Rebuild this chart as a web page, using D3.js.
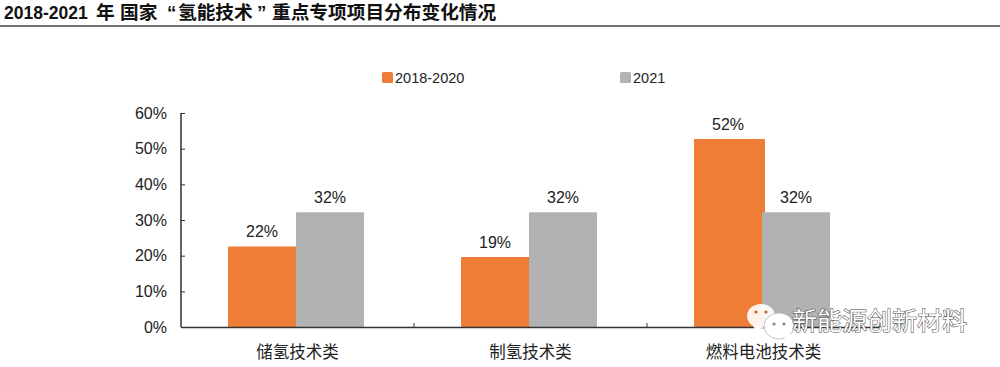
<!DOCTYPE html>
<html>
<head>
<meta charset="utf-8">
<script src="https://cdn.jsdelivr.net/npm/d3@7"></script>
<style>
html, body { margin: 0; padding: 0; background: #fff; }
svg { display: block; }
text { font-family: "Liberation Sans", "Noto Sans CJK SC", sans-serif; fill: #222; }
</style>
</head>
<body>
<svg width="1000" height="367"></svg>
<script>
var categories = ["储氢技术类", "制氢技术类", "燃料电池技术类"];
var seriesNames = ["2018-2020", "2021"];
var values2018 = [22.6, 19.6, 52.7];
var values2021 = [32.2, 32.2, 32.2];
var labels2018 = ["22%", "19%", "52%"];
var labels2021 = ["32%", "32%", "32%"];
var yTicks = [0, 10, 20, 30, 40, 50, 60];
var titleParts = ["2018-2021", "年", "国家", "“", "氢能技术", "”", "重点专项项目分布变化情况"];
var watermark = "新能源创新材料";
var colors = ["#ed7d37", "#b2b2b2"];

var svg = d3.select("svg");

var margin = {top: 113, right: 120, bottom: 40, left: 181},
    width = 1000 - margin.left - margin.right,
    height = 367 - margin.top - margin.bottom,
    g = svg.append("g").attr("transform", "translate(" + margin.left + "," + margin.top + ")");

// title + rule, runs placed one by one because the original has odd gaps
var titleX = [4, 96, 120, 167, 178, 257, 272];
var title = svg.append("text")
    .attr("y", 19)
    .style("font-size", "18.7px")
    .style("font-weight", "bold")
    .style("fill", "#111");

title.selectAll("tspan")
  .data(titleParts)
  .enter().append("tspan")
    .attr("x", function(d, i) { return titleX[i]; })
    .style("font-size", function(d, i) { return i == 0 ? "17.5px" : null; })
    .text(function(d) { return d; });

svg.append("line")
    .attr("x1", 0).attr("x2", 1000)
    .attr("y1", 26).attr("y2", 26)
    .attr("stroke", "#444")
    .attr("stroke-width", 1.5);

var x = d3.scaleBand()
    .domain(categories)
    .range([0, width]);

var x1 = d3.scaleBand()
    .domain(seriesNames)
    .range([47, x.bandwidth() - 50]);

var y = d3.scaleLinear()
    .domain([0, 60])
    .range([height, 0]);

// bars
var rows = categories.map(function(c, i) {
  return {cat: c, vals: [values2018[i], values2021[i]], labs: [labels2018[i], labels2021[i]]};
});

var groups = g.selectAll(".cat")
  .data(rows)
  .enter().append("g")
    .attr("class", "cat")
    .attr("transform", function(d) { return "translate(" + x(d.cat) + ",0)"; });

// orange runs a little under the grey bar, only visible on the tall one
groups.selectAll("rect")
  .data(function(d) {
    return d.vals.map(function(v, i) { return {name: seriesNames[i], value: v, i: i}; });
  })
  .enter().append("rect")
    .attr("x", function(d) { return x1(d.name); })
    .attr("y", function(d) { return y(d.value); })
    .attr("width", function(d) { return x1.bandwidth() + (d.i == 0 ? 3 : 0); })
    .attr("height", function(d) { return height - y(d.value); })
    .attr("rx", 1)
    .attr("fill", function(d) { return colors[d.i]; });

groups.selectAll(".lab")
  .data(function(d) {
    return d.vals.map(function(v, i) { return {name: seriesNames[i], value: v, label: d.labs[i]}; });
  })
  .enter().append("text")
    .attr("class", "lab")
    .attr("x", function(d) { return x1(d.name) + x1.bandwidth() / 2; })
    .attr("y", function(d) { return y(d.value) - 9; })
    .attr("text-anchor", "middle")
    .style("font-size", "16px")
    .text(function(d) { return d.label; });

// axes
var yAxis = g.append("g")
    .call(d3.axisLeft(y).tickValues(yTicks).tickSize(4).tickFormat(function(d) { return d + "%"; }));

yAxis.selectAll("text").attr("x", -14).style("font-size", "16px");
yAxis.selectAll("line").attr("stroke", "#333").attr("x1", 0).attr("x2", 4);
yAxis.select(".domain").attr("stroke", "#333").attr("stroke-width", 1.5).attr("d", "M0,0V" + height);

var xAxis = g.append("g")
    .attr("transform", "translate(0," + height + ")")
    .call(d3.axisBottom(x).tickSize(0));

xAxis.selectAll("text").attr("y", 25).attr("dy", "0.35em").style("font-size", "16.5px");
xAxis.select(".domain").attr("stroke", "#333").attr("stroke-width", 1.5);

// separators between categories
xAxis.selectAll(".sep")
  .data(categories)
  .enter().append("line")
    .attr("class", "sep")
    .attr("x1", function(d) { return x(d) + x.bandwidth(); })
    .attr("x2", function(d) { return x(d) + x.bandwidth(); })
    .attr("y1", -4).attr("y2", 0)
    .attr("stroke", "#333");

// legend
var legendX = [382, 620];
var legend = svg.selectAll(".legend")
  .data(seriesNames)
  .enter().append("g")
    .attr("class", "legend")
    .attr("transform", function(d, i) { return "translate(" + legendX[i] + ",72)"; });

legend.append("rect")
    .attr("width", 11).attr("height", 11).attr("rx", 1.5)
    .attr("fill", function(d, i) { return colors[i]; });

legend.append("text")
    .attr("x", 13).attr("y", 11)
    .style("font-size", "14.5px")
    .text(function(d) { return d; });

// watermark
var wm = svg.append("g").attr("transform", "translate(746,304)");

wm.append("ellipse")
    .attr("cx", 15).attr("cy", 12).attr("rx", 14).attr("ry", 12)
    .attr("fill", "#fff").attr("fill-opacity", 0.9);
wm.append("path")
    .attr("d", "M7,21L10,30L16,23Z")
    .attr("fill", "#fff").attr("fill-opacity", 0.9);
wm.append("ellipse")
    .attr("cx", 33).attr("cy", 22).attr("rx", 15).attr("ry", 13)
    .attr("fill", "#fff").attr("stroke", "#aaa").attr("stroke-width", 0.7);
wm.append("path")
    .attr("d", "M38,33L44,39L44,30Z")
    .attr("fill", "#fff");

[[10, 8, "#c9622a"], [20, 8, "#c9622a"], [28, 20, "#888"], [38, 20, "#888"]].forEach(function(p) {
  wm.append("circle").attr("cx", p[0]).attr("cy", p[1]).attr("r", 1.6).attr("fill", p[2]);
});

svg.append("text")
    .attr("x", 792).attr("y", 330)
    .style("font-size", "25px")
    .style("fill", "#fff")
    .style("stroke", "#444")
    .style("stroke-width", "1px")
    .style("paint-order", "stroke")
    .text(watermark);
</script>
</body>
</html>
